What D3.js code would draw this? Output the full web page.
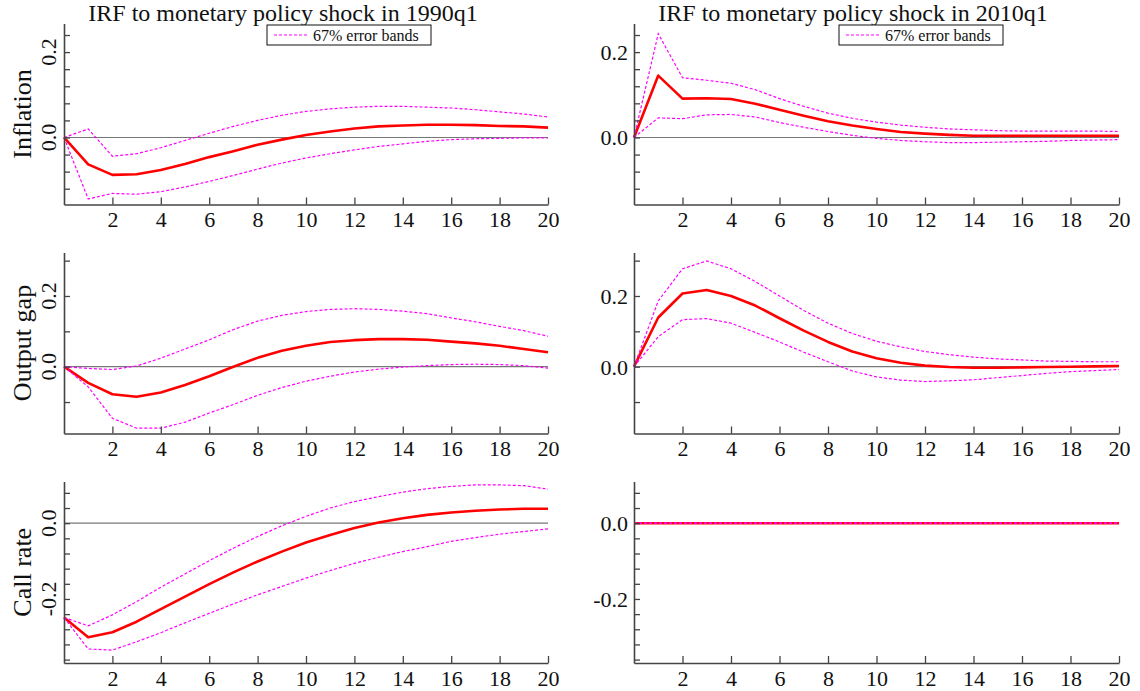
<!DOCTYPE html>
<html>
<head>
<meta charset="utf-8">
<script src="https://cdn.jsdelivr.net/npm/d3@7"></script>
<style>
  body { margin: 0; background: #fff; }
  svg { font-family: "Liberation Serif", "DejaVu Serif", serif; }
</style>
</head>
<body>
<div id="chart"></div>
<script>
// canvas
const F_WIDTH = 1140;
const F_HEIGHT = 691;

// horizons and labels
const HORIZONS = [0,1,2,3,4,5,6,7,8,9,10,11,12,13,14,15,16,17,18,19,20];
const X_TICKS = [2,4,6,8,10,12,14,16,18,20];
const TITLES = ["IRF to monetary policy shock in 1990q1", "IRF to monetary policy shock in 2010q1"];
const ROW_LABELS = ["Inflation", "Output gap", "Call rate"];
const LEGEND_TEXT = "67% error bands";

// 1990q1 inflation
const INF_90 = [0,-0.063,-0.0875,-0.086,-0.076,-0.062,-0.046,-0.032,-0.017,-0.005,0.006,0.014,0.021,0.026,0.028,0.0297,0.0297,0.029,0.027,0.026,0.023];
const INF_90_UP = [0,0.020,-0.044,-0.038,-0.024,-0.007,0.010,0.026,0.040,0.052,0.061,0.067,0.071,0.073,0.073,0.071,0.069,0.065,0.060,0.055,0.048];
const INF_90_LO = [0,-0.144,-0.131,-0.133,-0.127,-0.116,-0.103,-0.089,-0.074,-0.060,-0.048,-0.038,-0.029,-0.021,-0.015,-0.009,-0.005,-0.003,-0.002,-0.001,-0.001];
// 2010q1 inflation
const INF_10 = [0,0.145,0.091,0.092,0.090,0.079,0.065,0.051,0.038,0.028,0.020,0.013,0.009,0.006,0.004,0.004,0.004,0.004,0.004,0.004,0.004];
const INF_10_UP = [0,0.243,0.140,0.134,0.127,0.112,0.091,0.073,0.057,0.045,0.036,0.029,0.024,0.020,0.018,0.016,0.015,0.015,0.015,0.015,0.014];
const INF_10_LO = [0,0.046,0.044,0.053,0.054,0.048,0.035,0.024,0.014,0.005,-0.002,-0.007,-0.010,-0.012,-0.012,-0.011,-0.010,-0.009,-0.007,-0.006,-0.005];

// 1990q1 output gap
const GAP_90 = [0,-0.046,-0.078,-0.085,-0.073,-0.052,-0.027,0.000,0.025,0.045,0.059,0.070,0.075,0.078,0.078,0.076,0.071,0.066,0.059,0.050,0.041];
const GAP_90_UP = [0,-0.005,-0.008,0.002,0.024,0.050,0.076,0.105,0.129,0.145,0.156,0.162,0.164,0.162,0.157,0.150,0.138,0.127,0.114,0.102,0.086];
const GAP_90_LO = [0,-0.057,-0.146,-0.174,-0.174,-0.157,-0.131,-0.107,-0.081,-0.059,-0.041,-0.027,-0.015,-0.007,-0.001,0.003,0.006,0.007,0.006,0.003,-0.004];
// 2010q1 output gap
const GAP_10 = [0,0.139,0.207,0.217,0.200,0.173,0.137,0.102,0.070,0.043,0.024,0.011,0.003,-0.001,-0.003,-0.003,-0.002,-0.001,0.000,0.001,0.002];
const GAP_10_UP = [0,0.186,0.277,0.299,0.277,0.241,0.200,0.159,0.123,0.094,0.072,0.056,0.043,0.034,0.027,0.022,0.019,0.016,0.015,0.014,0.014];
const GAP_10_LO = [0,0.085,0.133,0.136,0.123,0.097,0.070,0.041,0.014,-0.012,-0.029,-0.038,-0.042,-0.040,-0.037,-0.031,-0.025,-0.019,-0.014,-0.011,-0.008];

// 1990q1 call rate
const RATE_90 = [-0.249,-0.301,-0.288,-0.260,-0.227,-0.194,-0.161,-0.130,-0.101,-0.075,-0.051,-0.031,-0.013,0.002,0.013,0.022,0.028,0.033,0.036,0.038,0.038];
const RATE_90_UP = [-0.249,-0.271,-0.242,-0.207,-0.169,-0.134,-0.099,-0.066,-0.035,-0.007,0.018,0.040,0.057,0.070,0.082,0.091,0.097,0.101,0.101,0.099,0.090];
const RATE_90_LO = [-0.249,-0.332,-0.335,-0.313,-0.289,-0.263,-0.238,-0.213,-0.189,-0.167,-0.145,-0.125,-0.106,-0.090,-0.075,-0.062,-0.048,-0.038,-0.029,-0.022,-0.015];
// 2010q1 call rate (flat)
const RATE_10 = [0,0,0,0,0,0,0,0,0,0,0,0,0,0,0,0,0,0,0,0,0];
const RATE_10_UP = [0,0,0,0,0,0,0,0,0,0,0,0,0,0,0,0,0,0,0,0,0];
const RATE_10_LO = [0,0,0,0,0,0,0,0,0,0,0,0,0,0,0,0,0,0,0,0,0];

// y ranges, tick steps and labelled ticks per row
const Y_DOMAINS = [[-0.157, 0.267], [-0.189, 0.323], [-0.369, 0.11]];
const Y_MINOR = [[-0.12,-0.08,-0.04,0,0.04,0.08,0.12,0.16,0.2,0.24],
                 [-0.1,0,0.1,0.2,0.3],
                 [-0.36,-0.32,-0.28,-0.24,-0.2,-0.16,-0.12,-0.08,-0.04,0,0.04,0.08]];
const Y_LABELED = [[0, 0.2], [0, 0.2], [-0.2, 0]];

const ROWS = [
  [[INF_90, INF_90_UP, INF_90_LO], [INF_10, INF_10_UP, INF_10_LO]],
  [[GAP_90, GAP_90_UP, GAP_90_LO], [GAP_10, GAP_10_UP, GAP_10_LO]],
  [[RATE_90, RATE_90_UP, RATE_90_LO], [RATE_10, RATE_10_UP, RATE_10_LO]]
];

// layout of the 6 plot areas
const COL_X = [[64, 548], [634, 1119]];
const ROW_Y = [[23.5, 204.5], [252.5, 433.5], [481.5, 663]];
const SERIF = "'Liberation Serif', 'DejaVu Serif', serif";

// plain hyphen for negatives, like the original
const fmt = v => d3.format(".1f")(v).replace("\u2212", "-");

const svg = d3.select("#chart")
  .append("svg")
    .attr("width", F_WIDTH)
    .attr("height", F_HEIGHT);

// column titles
TITLES.forEach((t, c) => {
  svg.append("text")
    .attr("x", c === 0 ? 283 : 853)
    .attr("y", 21)
    .attr("text-anchor", "middle")
    .attr("font-size", 24)
    .attr("fill", "#111")
    .text(t);
});

const line = (X, Y) => d3.line()
  .x((d, i) => X(HORIZONS[i]))
  .y(d => Y(d));

ROWS.forEach((row, r) => {
  const [yTop, yBot] = ROW_Y[r];
  const Y = d3.scaleLinear().domain(Y_DOMAINS[r]).range([yBot, yTop]);

  // row label, rotated
  svg.append("text")
    .attr("transform", "translate(31," + ((yTop + yBot) / 2) + ") rotate(-90)")
    .attr("text-anchor", "middle")
    .attr("font-size", 26)
    .attr("fill", "#111")
    .text(ROW_LABELS[r]);

  row.forEach((series, c) => {
    const [x0, x1] = COL_X[c];
    const X = d3.scaleLinear().domain([0, 20]).range([x0, x1]);
    const g = svg.append("g");

    // zero line
    g.append("line")
      .attr("x1", x0).attr("x2", x1)
      .attr("y1", Y(0)).attr("y2", Y(0))
      .attr("stroke", "#777").attr("stroke-width", 1.2);

    // point estimate
    g.append("path")
      .datum(series[0])
      .attr("d", line(X, Y))
      .attr("fill", "none")
      .attr("stroke", "#ff0000")
      .attr("stroke-width", 2.6)
      .attr("stroke-linejoin", "round");

    // error bands drawn on top
    [series[1], series[2]].forEach(band => {
      g.append("path")
        .datum(band)
        .attr("d", line(X, Y))
        .attr("fill", "none")
        .attr("stroke", "#ff00ff")
        .attr("stroke-width", 1.2)
        .attr("stroke-dasharray", "3,2");
    });

    // x axis, ticks point up into the plot
    const xAxis = g.append("g")
      .attr("transform", "translate(0," + yBot + ")")
      .call(d3.axisBottom(X).tickValues(X_TICKS).tickSize(-7).tickSizeOuter(0).tickPadding(7));
    xAxis.select(".domain").attr("stroke", "#444").attr("stroke-width", 1.6);
    xAxis.selectAll(".tick line").attr("stroke", "#444").attr("stroke-width", 1.3);
    xAxis.selectAll(".tick text")
      .style("font-family", SERIF)
      .style("font-size", "22px")
      .attr("fill", "#111");

    // y axis, ticks point right into the plot
    const yAxis = g.append("g")
      .attr("transform", "translate(" + x0 + ",0)")
      .call(d3.axisLeft(Y).tickValues(Y_MINOR[r]).tickSize(-6).tickSizeOuter(0).tickFormat(""));
    yAxis.select(".domain").attr("stroke", "#444").attr("stroke-width", 1.6);
    yAxis.selectAll(".tick line").attr("stroke", "#444").attr("stroke-width", 1.3);

    // y tick labels: rotated on the left column, flat on the right
    Y_LABELED[r].forEach(v => {
      const t = g.append("text")
        .attr("font-size", 22)
        .attr("fill", "#111")
        .text(fmt(v));
      if (c === 0) {
        t.attr("transform", "translate(" + (x0 - 8) + "," + Y(v) + ") rotate(-90)")
         .attr("text-anchor", "middle");
      } else {
        t.attr("x", x0 - 6).attr("y", Y(v) + 8)
         .attr("text-anchor", "end");
      }
    });

    // legend box in the first row
    if (r === 0) {
      const lx = c === 0 ? 267 : 839;
      const lg = g.append("g").attr("transform", "translate(" + lx + ",25)");
      lg.append("rect")
        .attr("width", 164).attr("height", 20)
        .attr("fill", "#fff").attr("stroke", "#111").attr("stroke-width", 1);
      lg.append("line")
        .attr("x1", 7).attr("x2", 40).attr("y1", 10).attr("y2", 10)
        .attr("stroke", "#ff00ff").attr("stroke-width", 1.2).attr("stroke-dasharray", "3,2");
      lg.append("text")
        .attr("x", 46).attr("y", 15.5)
        .attr("font-size", 16)
        .attr("fill", "#111")
        .text(LEGEND_TEXT);
    }
  });
});
</script>
</body>
</html>
